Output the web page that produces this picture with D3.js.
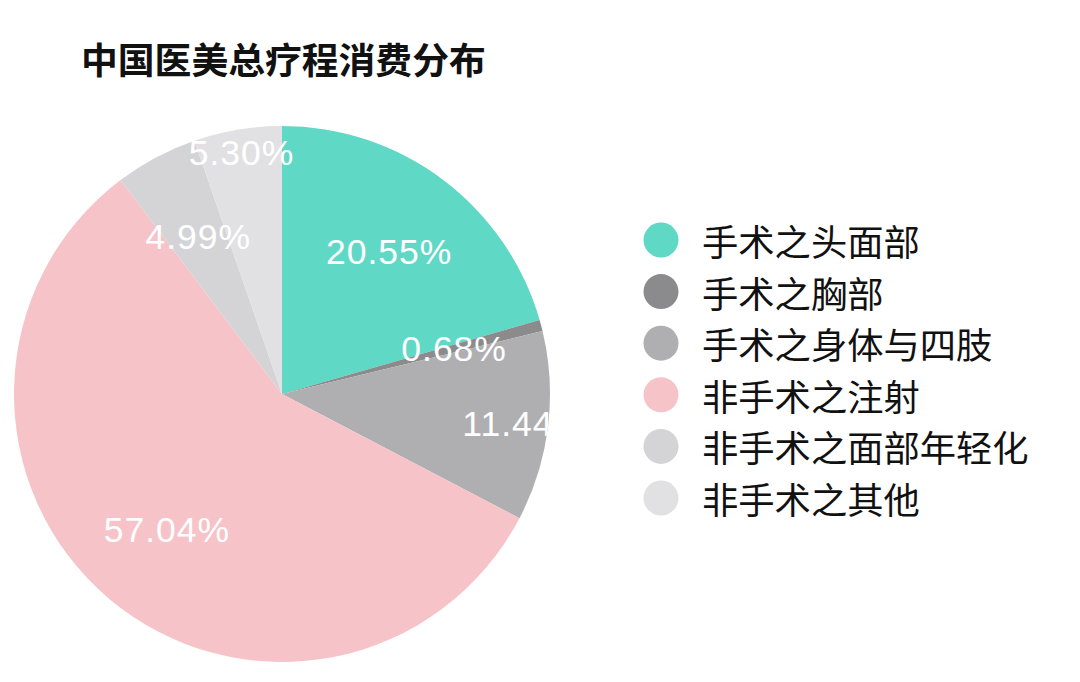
<!DOCTYPE html>
<html><head><meta charset="utf-8">
<script src="https://cdn.jsdelivr.net/npm/d3@7"></script>
<style>body{margin:0;background:#fff;}svg{display:block;}</style>
</head><body>
<svg id="c" width="1080" height="682"></svg>
<script>
const title = "中国医美总疗程消费分布";
const categories = ["手术之头面部","手术之胸部","手术之身体与四肢","非手术之注射","非手术之面部年轻化","非手术之其他"];
const values = [20.55, 0.68, 11.44, 57.04, 4.99, 5.30];
const colors = ["#5fd8c6","#8b8b8d","#afafb1","#f5c3c8","#d4d4d6","#e1e1e3"];
const outerLabels = ["手术之身体与四肢","非手术之其他"];

const svg = d3.select("#c");
const cx = 282, cy = 394, R = 268;

svg.append("text").attr("x", 81).attr("y", 58)
  .attr("dominant-baseline","central")
  .attr("font-family","'Noto Sans CJK SC'").attr("font-weight","bold")
  .attr("font-size", 36.8).attr("fill","#111").text(title);

const data = categories.map((c,i)=>({cat:c, value:values[i], color:colors[i]}));
const pie = d3.pie().value(d=>d.value).sort(null);
const arcs = pie(data);
const arc = d3.arc().innerRadius(0).outerRadius(R);
const labelArcIn = d3.arc().innerRadius(178).outerRadius(178);
const labelArcOut = d3.arc().innerRadius(244).outerRadius(244);

svg.append("defs").append("clipPath").attr("id","pc")
  .append("circle").attr("r", R);

const g = svg.append("g").attr("transform", `translate(${cx},${cy})`);
g.selectAll("path").data(arcs).join("path")
  .attr("d", arc).attr("fill", d=>d.data.color);

g.append("g").attr("clip-path","url(#pc)")
  .selectAll("text").data(arcs).join("text")
  .attr("transform", d=>{
    const a = outerLabels.includes(d.data.cat) ? labelArcOut : labelArcIn;
    const [x,y] = a.centroid(d);
    return `translate(${x},${y})`;
  })
  .attr("text-anchor","middle").attr("dominant-baseline","central")
  .attr("font-family","'Liberation Sans', Arial, sans-serif")
  .attr("font-size", 35.5).attr("letter-spacing", 1)
  .attr("fill","#fff")
  .text(d=>d3.format(".2f")(d.data.value)+"%");

const leg = svg.append("g");
const ly = d3.scaleLinear().domain([0, categories.length-1]).range([240, 498]);
const items = leg.selectAll("g").data(data).join("g")
  .attr("transform",(d,i)=>`translate(661,${ly(i)})`);
items.append("circle").attr("r",17.5).attr("fill",d=>d.color);
items.append("text").attr("x",41).attr("y",0)
  .attr("dominant-baseline","central")
  .attr("font-family","'Noto Sans CJK SC'")
  .attr("font-size",36.3).attr("fill","#111").text(d=>d.cat);
</script>
</body></html>
